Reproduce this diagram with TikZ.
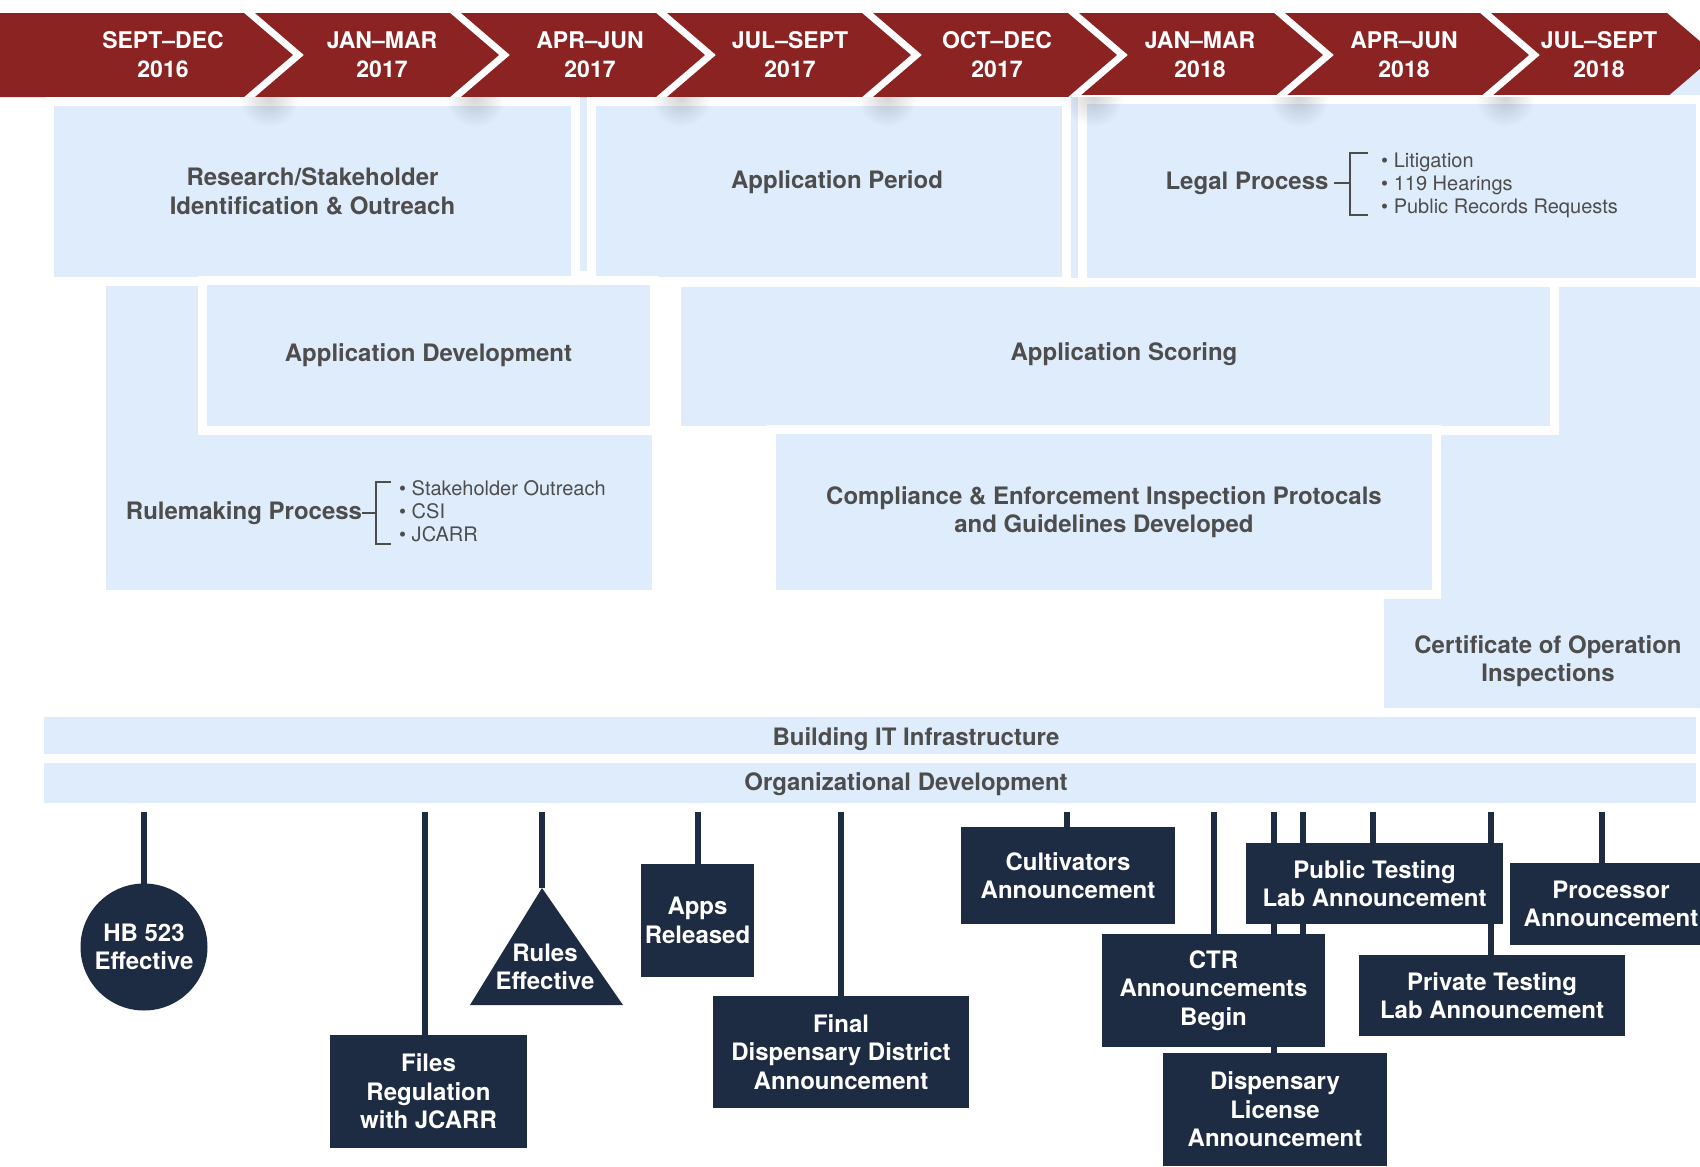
\documentclass[tikz,border=0pt]{standalone}
\usepackage{fontspec}
\setmainfont{TeX Gyre Heros}
\usetikzlibrary{positioning,fadings}
\definecolor{banred}{RGB}{139,35,35}
\definecolor{paleblue}{RGB}{223,236,252}
\definecolor{navy}{RGB}{30,44,67}
\definecolor{txtgrey}{RGB}{77,77,77}
\tikzfading[name=softspot, inner color=transparent!25, outer color=transparent!100]
\pgfdeclarelayer{back}
\pgfsetlayers{back,main}
\tikzset{
  phase/.style={fill=paleblue, draw=white, line width=9pt, inner sep=0pt, outer sep=0pt,
    text=txtgrey, font=\fontsize{24}{28.5}\selectfont\bfseries, align=center},
  phasetxt/.style={inner sep=0pt, text=txtgrey, font=\fontsize{24}{28.5}\selectfont\bfseries, align=center},
  event/.style={fill=navy, inner sep=0pt, outer sep=0pt, text=white,
    font=\fontsize{24}{28.5}\selectfont\bfseries, align=center},
  quarter/.style={text=white, font=\fontsize{23}{29}\selectfont\bfseries, align=center},
  bullets/.style={inner sep=0pt, text=txtgrey, font=\fontsize{20}{23}\selectfont, align=left},
  brace/.style={draw=txtgrey, line width=1.6pt},
  stem/.style={draw=navy, line width=6pt},
}
\begin{document}
\begin{tikzpicture}[x=1pt,y=-1pt]
\useasboundingbox (0,0) rectangle (1700,1167);

% backdrop behind the top row
\fill[paleblue] (579,97) rectangle (1700,286);
\fill[paleblue] (1660,45) rectangle (1700,97);

% quarters
\foreach \l/\r in {-60/244, 255/450, 461/656, 667/862, 873/1068, 1079/1274, 1285/1480, 1491/1667}
  \fill[banred] (\l,13) -- (\r,13) -- ({\r+49},55) -- (\r,97) -- (\l,97) -- ({\l+49},55) -- cycle;
\foreach \x/\a/\b [count=\i] in {163/SEPT–DEC/2016, 382/JAN–MAR/2017, 590/APR–JUN/2017,
    790/JUL–SEPT/2017, 997/OCT–DEC/2017, 1200/JAN–MAR/2018, 1404/APR–JUN/2018, 1599/JUL–SEPT/2018}
  \node[quarter] (q\i) at (\x,55) {\a\\\b};

% phases
\node[phase, minimum width=555pt, minimum height=319pt] (rulebox) at (379,435) {};
\node[phase, minimum width=335pt, minimum height=432pt] (certbox) at (1547,498.5) {};
\node[phase, minimum width=526pt, minimum height=180pt] (research) at (312.5,191.5)
  {Research/Stakeholder\\Identification \& Outreach};
\node[phase, minimum width=475pt, minimum height=180pt] (period) at (829,191.5) {};
\node[phase, minimum width=618pt, minimum height=183pt] (legal) at (1391.5,191) {};
\node[phase, minimum width=452pt, minimum height=150pt] (appdev) at (428.5,355.5) {Application Development};
\node[phase, minimum width=878pt, minimum height=148pt] (scoring) at (1115.5,356.5) {};
\node[phase, minimum width=665pt, minimum height=165pt] (compliance) at (1104,512)
  {Compliance \& Enforcement Inspection Protocals\\and Guidelines Developed};

% shadows of the quarter arrows
\begin{scope}
  \clip (0,97) rectangle (1700,140);
  \foreach \l in {255, 461, 667, 873, 1079, 1285, 1491}
    \fill[black, opacity=.22, path fading=softspot] ({\l+14},97) ellipse [x radius=30pt, y radius=30pt];
\end{scope}

\node[phasetxt] (periodtxt) at (837,182) {Application Period};
\node[phasetxt] (scoringtxt) at (1124,354) {Application Scoring};
\node[phasetxt] (certtxt) at (1548,661) {Certificate of Operation\\Inspections};

\node[phasetxt] (legaltxt) at (1247,183) {Legal Process};
\node[bullets, anchor=west] (legallist) at (1381,185)
  {\textbullet\ Litigation\\\textbullet\ 119 Hearings\\\textbullet\ Public Records Requests};
\draw[brace] ([xshift=5pt]legaltxt.east) -- (1350,183);
\draw[brace] (1368,153) -- (1350,153) -- (1350,215) -- (1368,215);

\node[phasetxt] (ruletxt) at (244,513) {Rulemaking Process};
\node[bullets, anchor=west] (rulelist) at (399,511)
  {\textbullet\ Stakeholder Outreach\\\textbullet\ CSI\\\textbullet\ JCARR};
\draw[brace] (ruletxt.east) -- (376,513);
\draw[brace] (391,482) -- (376,482) -- (376,544) -- (391,544);

% ongoing work
\node[phase, minimum width=1661pt, minimum height=47pt] (itbar) at (870,736) {};
\node[phase, minimum width=1661pt, minimum height=49pt] (orgbar) at (870,783) {};
\node[phasetxt] (ittxt) at (916,739) {Building IT Infrastructure};
\node[phasetxt] (orgtxt) at (906,784) {Organizational Development};

% milestones
\node[event, circle, minimum size=127pt] (hb) at (144,947) {HB 523\\Effective};
\node[event, minimum width=197pt, minimum height=113pt] (files) at (428.5,1091.5) {Files\\Regulation\\with JCARR};
\fill[navy] (542,888) coordinate (rulestip) -- (623,1005) -- (470,1005) -- cycle;
\node[event, fill=none] (rules) at (545,967) {Rules\\Effective};
\node[event, minimum width=113pt, minimum height=113pt] (apps) at (697.5,920.5) {Apps\\Released};
\node[event, minimum width=256pt, minimum height=112pt] (final) at (841,1052) {Final\\Dispensary District\\Announcement};
\node[event, minimum width=214pt, minimum height=97pt] (cult) at (1068,875.5) {Cultivators\\Announcement};
\node[event, minimum width=257pt, minimum height=81pt] (pub) at (1374.5,883.5) {Public Testing\\Lab Announcement};
\node[event, minimum width=223pt, minimum height=113pt] (ctr) at (1213.5,990.5) {CTR\\Announcements\\Begin};
\node[event, minimum width=266pt, minimum height=81pt] (priv) at (1492,995.5) {Private Testing\\Lab Announcement};
\node[event, minimum width=202pt, minimum height=82pt] (proc) at (1611,904) {Processor\\Announcement};
\node[event, minimum width=224pt, minimum height=113pt] (disp) at (1275,1109.5) {Dispensary\\License\\Announcement};

\foreach \n/\x in {s1/144, s2/425, s3/542, s4/698, s5/841, s6/1067, s7/1214,
    s8/1274, s9/1303, s10/1373, s11/1491, s12/1602}
  \coordinate (\n) at (\x,810);

\begin{pgfonlayer}{back}
  \draw[stem] (s1) -- (hb.north);
  \draw[stem] (s2) -- (s2 |- files.north);
  \draw[stem] (s3) -- (rulestip);
  \draw[stem] (s4) -- (s4 |- apps.north);
  \draw[stem] (s5) -- (s5 |- final.north);
  \draw[stem] (s6) -- (s6 |- cult.north);
  \draw[stem] (s7) -- (s7 |- ctr.north);
  \draw[stem] (s8) -- (s8 |- disp.north);
  \draw[stem] (s9) -- (s9 |- ctr.north);
  \draw[stem] (s10) -- (s10 |- pub.north);
  \draw[stem] (s11) -- (s11 |- priv.north);
  \draw[stem] (s12) -- (s12 |- proc.north);
\end{pgfonlayer}
\end{tikzpicture}
\end{document}
